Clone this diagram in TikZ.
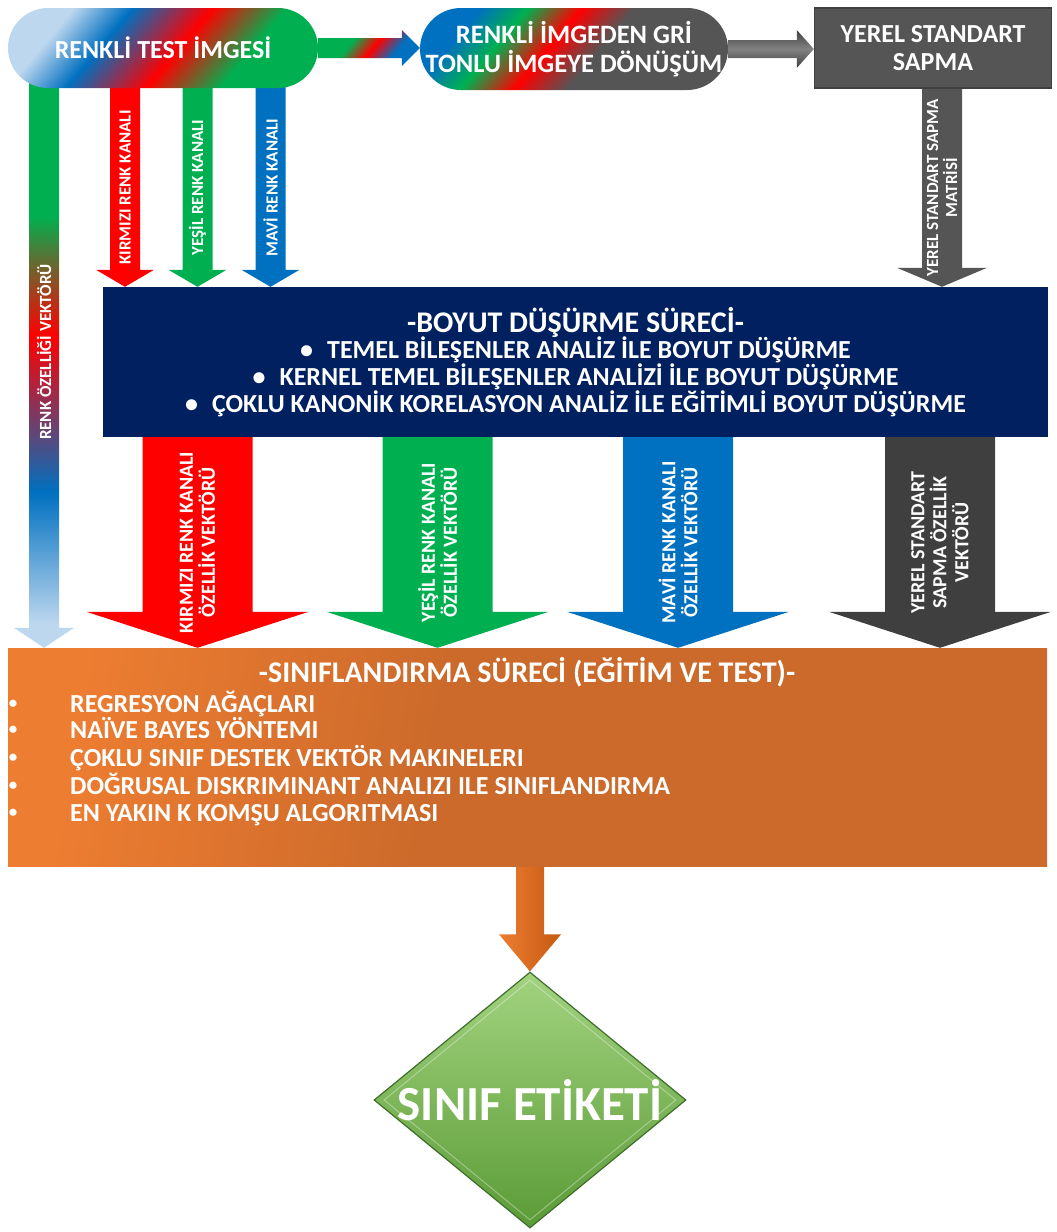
\documentclass[tikz,border=0pt]{standalone}
\usepackage{fontspec}
\setmainfont{Carlito}
\usetikzlibrary{calc,shapes.geometric,backgrounds}

\definecolor{acikmavi}{HTML}{BDD7EE}
\definecolor{mavi}{HTML}{0070C0}
\definecolor{kirmizi}{HTML}{FF0000}
\definecolor{yesil}{HTML}{00B050}
\definecolor{koyugri}{HTML}{555555}
\definecolor{antrasit}{HTML}{3F3F3F}
\definecolor{lacivert}{HTML}{002060}
\definecolor{turA}{HTML}{ED7D31}
\definecolor{turB}{HTML}{CC6A2B}
\definecolor{turC}{HTML}{C55A11}
\definecolor{acikyesil}{HTML}{A2D37F}
\definecolor{koyuyesil}{HTML}{5B9B37}
\definecolor{kenaryesil}{HTML}{3F6E2A}

% renk gecisleri
\pgfdeclarehorizontalshading{renkli}{100bp}{color(0bp)=(acikmavi); color(27bp)=(acikmavi); color(38bp)=(mavi); color(53bp)=(kirmizi); color(67bp)=(yesil); color(100bp)=(yesil)}
\pgfdeclarehorizontalshading{gritonu}{100bp}{color(0bp)=(mavi); color(26bp)=(mavi); color(35bp)=(yesil); color(45bp)=(kirmizi); color(55bp)=(koyugri); color(100bp)=(koyugri)}
\pgfdeclarehorizontalshading{renkliok}{100bp}{color(0bp)=(yesil); color(38bp)=(yesil); color(52bp)=(kirmizi); color(66bp)=(mavi); color(100bp)=(mavi)}
\pgfdeclareverticalshading{renkserit}{100bp}{color(0bp)=(acikmavi); color(27bp)=(acikmavi); color(38bp)=(mavi); color(51bp)=(kirmizi); color(61bp)=(yesil); color(100bp)=(yesil)}
\pgfdeclarehorizontalshading{turuncu}{100bp}{color(0bp)=(turA); color(25bp)=(turA); color(45bp)=(turB); color(100bp)=(turB)}

% blok oklar
\newcommand\asagiok[6]{%
  \path[#1] let \p1=(#2), \p2=(#3) in
    (\x1-#4,\y1) -- (\x1+#4,\y1) -- (\x1+#4,\y2+#6) -- (\x1+#5,\y2+#6)
    -- (\x1,\y2) -- (\x1-#5,\y2+#6) -- (\x1-#4,\y2+#6) -- cycle;}
\newcommand\sagaok[6]{%
  \path[#1] let \p1=(#2), \p2=(#3) in
    (\x1,\y1+#4) -- (\x1,\y1-#4) -- (\x2-#6,\y1-#4) -- (\x2-#6,\y1-#5)
    -- (\x2,\y1) -- (\x2-#6,\y1+#5) -- (\x2-#6,\y1+#4) -- cycle;}

\tikzset{
  yazi/.style={text=white, font=\bfseries\fontsize{26}{28}\selectfont, align=center, inner sep=0pt},
  hap/.style={yazi, rounded corners=40pt, minimum width=310pt, minimum height=80pt, shade, shading angle=-40},
  baslik/.style={font=\bfseries\fontsize{30}{30}\selectfont},
  okyazi/.style={text=white, font=\bfseries\fontsize{17}{19}\selectfont, rotate=90, align=center, inner sep=0pt},
  genisyazi/.style={okyazi, font=\bfseries\fontsize{20}{22}\selectfont},
  madde/.style={text=white, font=\bfseries\fontsize{26}{28}\selectfont, anchor=base west, inner sep=0pt},
  nokta/.style={text=white, font=\bfseries\fontsize{17}{17}\selectfont, inner sep=0pt},
}

\begin{document}
\begin{tikzpicture}[x=1pt,y=-1pt]
    \useasboundingbox (0,0) rectangle (1057,1232);

    % ust satir
    \node[hap, shading=renkli] (test) at (163,48) {RENKLİ TEST İMGESİ};
    \node[hap, shading=gritonu, font=\bfseries\fontsize{26.5}{29}\selectfont, minimum width=308pt, minimum height=82pt, rounded corners=41pt] (gri) at (574,49) {RENKLİ İMGEDEN GRİ\\TONLU İMGEYE DÖNÜŞÜM};
    \node[yazi, fill=koyugri, draw=antrasit, line width=1.5pt, minimum width=237pt, minimum height=80pt] (sapma) at (933,48) {YEREL STANDART\\SAPMA};

    % boyut dusurme
    \node[yazi, fill=lacivert, minimum width=945pt, minimum height=150pt] (boyut) at (575.5,362)
        {{\fontsize{30}{30}\selectfont -BOYUT DÜŞÜRME SÜRECİ-}\\[-2pt]
         •\hspace{14pt}TEMEL BİLEŞENLER ANALİZ İLE BOYUT DÜŞÜRME\\[-1pt]
         •\hspace{14pt}KERNEL TEMEL BİLEŞENLER ANALİZİ İLE BOYUT DÜŞÜRME\\[-1pt]
         •\hspace{14pt}ÇOKLU KANONİK KORELASYON ANALİZ İLE EĞİTİMLİ BOYUT DÜŞÜRME};

    % siniflandirma
    \node[shade, shading=turuncu, shading angle=-10, minimum width=1039pt, minimum height=218pt] (sinif) at (527.5,757) {};
    \node[yazi, baslik] (sinifbaslik) at (527,672) {-SINIFLANDIRMA SÜRECİ (EĞİTİM VE TEST)-};
    \foreach \ad/\yy/\metin in {m1/712/REGRESYON AĞAÇLARI, m2/738/NAÏVE BAYES YÖNTEMI,
        m3/766/ÇOKLU SINIF DESTEK VEKTÖR MAKINELERI, m4/794/DOĞRUSAL DISKRIMINANT ANALIZI ILE SINIFLANDIRMA,
        m5/821/EN YAKIN K KOMŞU ALGORITMASI} {
        \node[nokta] (b\ad) at (13,\yy-8) {•};
        \node[madde] (\ad) at (70,\yy) {\metin};
    }

    % sinif etiketi
    \node[diamond, draw=kenaryesil, line width=1.2pt, top color=acikyesil, bottom color=koyuyesil,
          minimum width=312pt, minimum height=256pt, inner sep=0pt] (etiket) at (530,1100) {};
    \node[diamond, draw=white, draw opacity=0.35, line width=1pt,
          minimum width=292pt, minimum height=240pt, inner sep=0pt] (etiketic) at (etiket) {};
    \node[yazi, font=\bfseries\fontsize{49}{50}\selectfont] (etiketyazi) at (etiket) {SINIF ETİKETİ};

    % ok konumlari
    \coordinate (rx) at (44,0);
    \coordinate (kx1) at (125,0);
    \coordinate (yx1) at (197.5,0);
    \coordinate (mx1) at (270.5,0);
    \coordinate (gx1) at (942,0);
    \coordinate (kx2) at (197.5,0);
    \coordinate (yx2) at (437.5,0);
    \coordinate (mx2) at (678,0);
    \coordinate (gx2) at (940,0);

    \begin{pgfonlayer}{background}
        \sagaok{shade, shading=renkliok, shading angle=-40}{test.east}{gri.west}{10pt}{18pt}{18pt}
        \sagaok{top color=antrasit, bottom color=antrasit, middle color=antrasit!65!white}{gri.east}{sapma.west}{9pt}{19pt}{17pt}
        % kanallar
        \asagiok{shade, shading=renkserit}{test.center -| rx}{sinif.north -| rx}{15pt}{30pt}{20pt}
        \asagiok{fill=kirmizi}{test.center -| kx1}{boyut.north -| kx1}{15pt}{29pt}{17pt}
        \asagiok{fill=yesil}{test.center -| yx1}{boyut.north -| yx1}{15pt}{29pt}{17pt}
        \asagiok{fill=mavi}{test.center -| mx1}{boyut.north -| mx1}{15pt}{29pt}{17pt}
        \asagiok{fill=koyugri}{sapma.south -| gx1}{boyut.north -| gx1}{20pt}{45pt}{19pt}
        % ozellik vektorleri
        \asagiok{fill=kirmizi}{boyut.south -| kx2}{sinif.north -| kx2}{55pt}{111pt}{36pt}
        \asagiok{fill=yesil}{boyut.south -| yx2}{sinif.north -| yx2}{55pt}{111pt}{36pt}
        \asagiok{fill=mavi}{boyut.south -| mx2}{sinif.north -| mx2}{55pt}{111pt}{36pt}
        \asagiok{fill=antrasit}{boyut.south -| gx2}{sinif.north -| gx2}{55pt}{111pt}{36pt}
        \asagiok{left color=turA, right color=turC}{sinif.south -| etiket.north}{etiket.north}{14pt}{31pt}{37pt}
    \end{pgfonlayer}

    % ok yazilari
    \node[okyazi] (rv) at (44,352) {RENK ÖZELLİĞİ VEKTÖRÜ};
    \node[okyazi] (kk) at ($(test.south -| kx1)!.5!(boyut.north -| kx1)$) {KIRMIZI RENK KANALI};
    \node[okyazi] (yk) at ($(test.south -| yx1)!.5!(boyut.north -| yx1)$) {YEŞİL RENK KANALI};
    \node[okyazi] (mk) at ($(test.south -| mx1)!.5!(boyut.north -| mx1)$) {MAVİ RENK KANALI};
    \node[okyazi] (sm) at ($(sapma.south -| gx1)!.5!(boyut.north -| gx1)$) {YEREL STANDART SAPMA\\MATRİSİ};
    \node[genisyazi] (kv) at ($(boyut.south -| kx2)!.5!(sinif.north -| kx2)$) {KIRMIZI RENK KANALI\\ÖZELLİK VEKTÖRÜ};
    \node[genisyazi] (yv) at ($(boyut.south -| yx2)!.5!(sinif.north -| yx2)$) {YEŞİL RENK KANALI\\ÖZELLİK VEKTÖRÜ};
    \node[genisyazi] (mv) at ($(boyut.south -| mx2)!.5!(sinif.north -| mx2)$) {MAVİ RENK KANALI\\ÖZELLİK VEKTÖRÜ};
    \node[genisyazi] (sv) at ($(boyut.south -| gx2)!.5!(sinif.north -| gx2)$) {YEREL STANDART\\SAPMA ÖZELLİK\\VEKTÖRÜ};
\end{tikzpicture}
\end{document}
